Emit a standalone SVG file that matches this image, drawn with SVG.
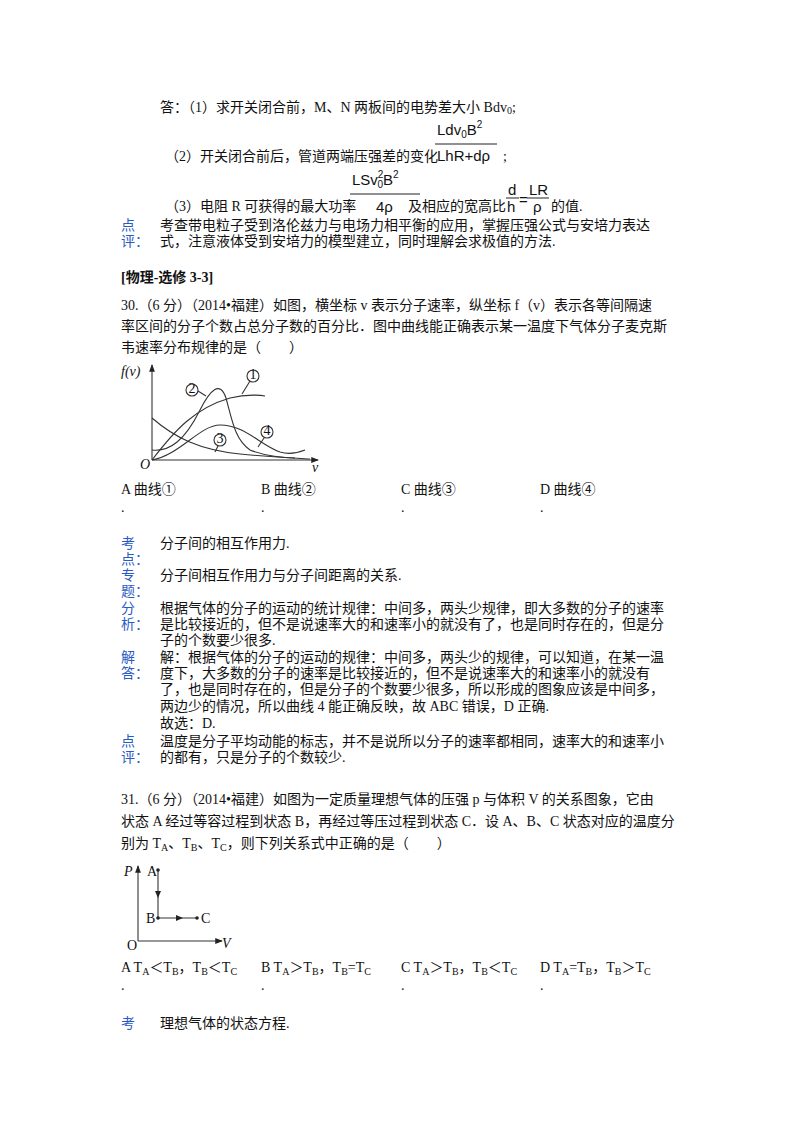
<svg xmlns="http://www.w3.org/2000/svg" width="800" height="1132" viewBox="0 0 800 1132">
<style>
text{font-family:"Liberation Serif","Noto Sans CJK SC",serif;font-size:14px;fill:#111}
.b{fill:#2a5bc4}
.f{font-family:"Liberation Sans",sans-serif;font-size:15px}
.ln{stroke:#333;fill:none;stroke-width:1.1}
.it{font-style:italic}
</style>
<defs><marker id="ar" viewBox="0 0 8 8" refX="7" refY="4" markerWidth="7" markerHeight="7" orient="auto"><path d="M0,1 L8,4 L0,7 z" fill="#222"/></marker></defs>
<rect width="800" height="1132" fill="#fff"/>
<text x="160" y="112">答：（1）求开关闭合前，M、N 两板间的电势差大小 Bdv<tspan font-size="10" dy="2">0</tspan><tspan dy="-2">;</tspan></text>
<text class="f" x="437" y="135">Ldv<tspan font-size="10" dy="3">0</tspan><tspan dy="-3">B</tspan><tspan font-size="10" dy="-7">2</tspan></text>
<line x1="435" y1="144" x2="497" y2="144" stroke="#222"/>
<text class="f" x="437" y="161">LhR+dρ</text>
<text x="165" y="161">（2）开关闭合前后，管道两端压强差的变化</text><text x="503" y="161">;</text>
<text class="f" x="352" y="185">LSv<tspan font-size="10" dy="-7">2</tspan><tspan font-size="10" dx="-6" dy="10">0</tspan><tspan dy="-3">B</tspan><tspan font-size="10" dy="-7">2</tspan></text>
<line x1="350" y1="194" x2="420" y2="194" stroke="#222"/>
<text class="f" x="376" y="212">4ρ</text>
<text x="165" y="211">（3）电阻 R 可获得的最大功率</text>
<text x="408" y="211">及相应的宽高比</text>
<text class="f" x="508" y="195">d</text><line x1="506" y1="198" x2="519" y2="198" stroke="#222"/><text class="f" x="507" y="212">h</text>
<text class="f" x="519" y="205">=</text>
<text class="f" x="529" y="195">LR</text><line x1="527" y1="198" x2="549" y2="198" stroke="#222"/><text class="f" x="533" y="212">ρ</text>
<text x="551" y="211">的值.</text>
<text class="b" x="121" y="230">点</text><text x="160" y="230">考查带电粒子受到洛伦兹力与电场力相平衡的应用，掌握压强公式与安培力表达</text>
<text class="b" x="121" y="246">评：</text><text x="160" y="246">式，注意液体受到安培力的模型建立，同时理解会求极值的方法.</text>
<text x="121" y="282" font-weight="bold">[物理-选修 3-3]</text>
<text x="121" y="310">30.（6 分）（2014•福建）如图，横坐标 v 表示分子速率，纵坐标 f（v）表示各等间隔速</text>
<text x="121" y="331">率区间的分子个数占总分子数的百分比．图中曲线能正确表示某一温度下气体分子麦克斯</text>
<text x="121" y="352">韦速率分布规律的是（　　）</text>
<g id="graph1">
<path class="ln" d="M152,460 V365" marker-end="url(#ar)"/>
<path class="ln" d="M152,460 H318" marker-end="url(#ar)"/>
<path class="ln" d="M152,460 C175,430 195,408 230,398 C250,393 265,396 265,396"/>
<path class="ln" d="M152,450 C170,452 185,440 200,410 C210,390 220,380 226,398 C232,420 235,440 250,450 C265,456 285,458 295,458"/>
<path class="ln" d="M152,418 C175,438 200,450 240,454 C270,457 295,458 310,459"/>
<path class="ln" d="M152,460 C180,455 200,425 220,425 C245,425 260,445 280,452 C290,455 300,452 305,450"/>
<circle cx="253" cy="376" r="6" class="ln"/><path class="ln" d="M250,381 L242,394"/>
<circle cx="192" cy="390" r="6" class="ln"/><path class="ln" d="M198,391 L206,396"/>
<circle cx="220" cy="440" r="6" class="ln"/><path class="ln" d="M218,446 L215,452"/>
<circle cx="267" cy="432" r="6" class="ln"/><path class="ln" d="M264,438 L258,447"/>
<text x="253" y="379" font-size="8" text-anchor="middle">1</text>
<text x="192" y="393" font-size="8" text-anchor="middle">2</text>
<text x="220" y="443" font-size="8" text-anchor="middle">3</text>
<text x="267" y="435" font-size="8" text-anchor="middle">4</text>
<text class="it" x="121" y="376" font-size="11">f(v)</text>
<text class="it" x="140" y="469" font-size="11">O</text>
<text class="it" x="312" y="472" font-size="10">v</text>
</g>
<text x="121" y="494">A 曲线①</text><text x="261" y="494">B 曲线②</text><text x="401" y="494">C 曲线③</text><text x="540" y="494">D 曲线④</text>
<text x="121" y="512">.</text><text x="261" y="512">.</text><text x="401" y="512">.</text><text x="540" y="512">.</text>
<text class="b" x="121" y="548">考</text><text class="b" x="121" y="564">点：</text><text x="160" y="548">分子间的相互作用力.</text>
<text class="b" x="121" y="580">专</text><text class="b" x="121" y="596">题：</text><text x="160" y="580">分子间相互作用力与分子间距离的关系.</text>
<text class="b" x="121" y="613">分</text><text class="b" x="121" y="629">析：</text>
<text x="160" y="613">根据气体的分子的运动的统计规律：中间多，两头少规律，即大多数的分子的速率</text>
<text x="160" y="629">是比较接近的，但不是说速率大的和速率小的就没有了，也是同时存在的，但是分</text>
<text x="160" y="645">子的个数要少很多.</text>
<text class="b" x="121" y="662">解</text><text class="b" x="121" y="678">答：</text>
<text x="160" y="662">解：根据气体的分子的运动的规律：中间多，两头少的规律，可以知道，在某一温</text>
<text x="160" y="678">度下，大多数的分子的速率是比较接近的，但不是说速率大的和速率小的就没有</text>
<text x="160" y="694">了，也是同时存在的，但是分子的个数要少很多，所以形成的图象应该是中间多，</text>
<text x="160" y="711">两边少的情况，所以曲线 4 能正确反映，故 ABC 错误，D 正确.</text>
<text x="160" y="728">故选：D.</text>
<text class="b" x="121" y="746">点</text><text class="b" x="121" y="762">评：</text>
<text x="160" y="746">温度是分子平均动能的标志，并不是说所以分子的速率都相同，速率大的和速率小</text>
<text x="160" y="762">的都有，只是分子的个数较少.</text>
<text x="121" y="804">31.（6 分）（2014•福建）如图为一定质量理想气体的压强 p 与体积 V 的关系图象，它由</text>
<text x="121" y="826">状态 A 经过等容过程到状态 B，再经过等压过程到状态 C．设 A、B、C 状态对应的温度分</text>
<text x="121" y="848">别为 T<tspan font-size="10" dy="3">A</tspan><tspan dy="-3">、T</tspan><tspan font-size="10" dy="3">B</tspan><tspan dy="-3">、T</tspan><tspan font-size="10" dy="3">C</tspan><tspan dy="-3">，则下列关系式中正确的是（　　）</tspan></text>
<g id="graph2">
<path class="ln" d="M138,941 V866" marker-end="url(#ar)"/>
<path class="ln" d="M138,941 H222" marker-end="url(#ar)"/>
<path class="ln" d="M158,870 V918 H197"/>
<path d="M155,891 L158,898 L161,891 z" fill="#222"/>
<path d="M176,915 L183,918 L176,921 z" fill="#222"/>
<circle cx="158" cy="870" r="1.8" fill="#222"/><circle cx="158" cy="918" r="1.8" fill="#222"/><circle cx="197" cy="918" r="1.8" fill="#222"/>
<text class="it" x="124" y="876" font-size="12">P</text>
<text x="147" y="876" font-size="12">A</text>
<text x="146" y="923" font-size="12">B</text>
<text x="201" y="923" font-size="12">C</text>
<text x="127" y="950" font-size="12">O</text>
<text class="it" x="222" y="948" font-size="12">V</text>
</g>
<text x="121" y="972">A T<tspan font-size="10" dy="3">A</tspan><tspan dy="-3">＜T</tspan><tspan font-size="10" dy="3">B</tspan><tspan dy="-3">，T</tspan><tspan font-size="10" dy="3">B</tspan><tspan dy="-3">＜T</tspan><tspan font-size="10" dy="3">C</tspan></text>
<text x="261" y="972">B T<tspan font-size="10" dy="3">A</tspan><tspan dy="-3">＞T</tspan><tspan font-size="10" dy="3">B</tspan><tspan dy="-3">，T</tspan><tspan font-size="10" dy="3">B</tspan><tspan dy="-3">=T</tspan><tspan font-size="10" dy="3">C</tspan></text>
<text x="401" y="972">C T<tspan font-size="10" dy="3">A</tspan><tspan dy="-3">＞T</tspan><tspan font-size="10" dy="3">B</tspan><tspan dy="-3">，T</tspan><tspan font-size="10" dy="3">B</tspan><tspan dy="-3">＜T</tspan><tspan font-size="10" dy="3">C</tspan></text>
<text x="540" y="972">D T<tspan font-size="10" dy="3">A</tspan><tspan dy="-3">=T</tspan><tspan font-size="10" dy="3">B</tspan><tspan dy="-3">，T</tspan><tspan font-size="10" dy="3">B</tspan><tspan dy="-3">＞T</tspan><tspan font-size="10" dy="3">C</tspan></text>
<text x="121" y="990">.</text><text x="261" y="990">.</text><text x="401" y="990">.</text><text x="540" y="990">.</text>
<text class="b" x="121" y="1028">考</text><text x="160" y="1028">理想气体的状态方程.</text>
</svg>
